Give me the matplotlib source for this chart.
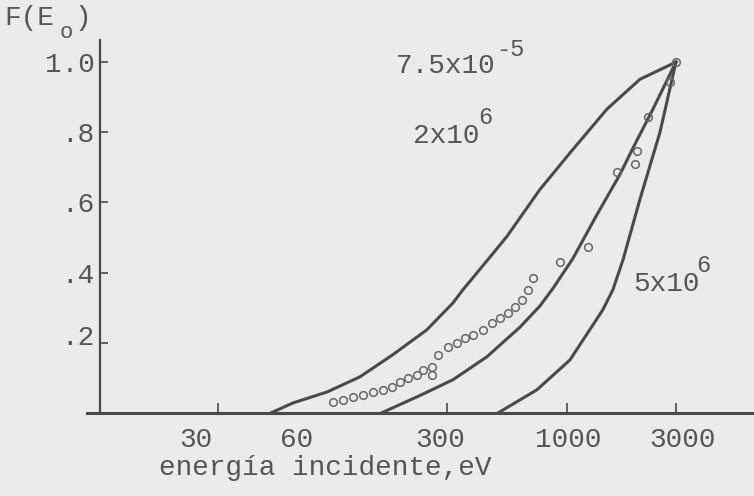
import matplotlib
matplotlib.use('Agg')
import matplotlib.pyplot as plt
from matplotlib.transforms import ScaledTranslation

# (energy in eV, F(E0))
energy_a = [51, 64, 90, 125, 174, 245, 319, 352, 431, 548, 764, 1064, 1499, 2089, 3000]
frac_a = [0.0, 0.029, 0.06, 0.103, 0.166, 0.237, 0.314, 0.351, 0.42, 0.503, 0.637, 0.751, 0.866, 0.951, 1.0]

energy_b = [155, 229, 319, 448, 626, 764, 871, 1064, 1355, 1709, 1947, 2381, 3000]
frac_b = [0.0, 0.05, 0.095, 0.16, 0.245, 0.305, 0.355, 0.44, 0.565, 0.68, 0.755, 0.866, 1.0]

energy_c = [501, 741, 1033, 1438, 1591, 1763, 2089, 2555, 3000]
frac_c = [0.0, 0.066, 0.151, 0.294, 0.351, 0.437, 0.609, 0.80, 1.0]

pts_e = [95, 105, 117, 129, 143, 158, 173, 187, 203, 222, 236, 258, 258, 274, 303, 332, 360,
         390, 431, 472, 511, 554, 594, 638, 678, 713, 934, 1238, 1656, 1986, 2027, 2265, 2825, 3000]
pts_f = [0.031, 0.037, 0.046, 0.051, 0.060, 0.066, 0.074, 0.089, 0.100, 0.109, 0.123, 0.131, 0.109,
         0.166, 0.189, 0.200, 0.214, 0.223, 0.237, 0.257, 0.271, 0.286, 0.303, 0.323, 0.351, 0.386,
         0.429, 0.474, 0.686, 0.709, 0.746, 0.843, 0.943, 1.0]

xticks = [30, 60, 300, 1000, 3000]
xticklabels = ['30', '60', '300', '1000', '3000']
yticks = [0.2, 0.4, 0.6, 0.8, 1.0]
yticklabels = ['.2', '.4', '.6', '.8', '1.0']

W, H = 754, 496
bg = '#ebebe9'
ink = '#4a4a4a'
txt = '#555555'
mono = 'Liberation Mono'

fig = plt.figure(figsize=(W/100, H/100), dpi=100, facecolor=bg)
ax = fig.add_axes([87/W, 1-413/H, (W-87)/W, (413-40)/H])
ax.set_facecolor(bg)

ax.plot(energy_a, frac_a, color=ink, lw=2.2, solid_joinstyle='round')
ax.plot(energy_b, frac_b, color=ink, lw=2.2, solid_joinstyle='round')
ax.plot(energy_c, frac_c, color=ink, lw=2.2, solid_joinstyle='round')
ax.plot(pts_e, pts_f, 'o', ms=5.5, mfc='none', mec='#666666', mew=1.1, ls='none')

ax.set_xscale('log')
ax.set_xlim(8.04, 6577)
ax.set_ylim(0, 1.063)

for s in ['top', 'right']:
	ax.spines[s].set_visible(False)
ax.spines['left'].set_position(('data', 9.16))
ax.spines['left'].set_color(ink)
ax.spines['left'].set_linewidth(1.6)
ax.spines['bottom'].set_color(ink)
ax.spines['bottom'].set_linewidth(2.2)

ax.set_xticks(xticks)
ax.set_xticklabels(xticklabels)
ax.xaxis.set_minor_locator(matplotlib.ticker.NullLocator())
ax.get_xaxis().get_major_ticks()[1].tick1line.set_visible(False)
ax.set_yticks(yticks)
ax.set_yticklabels(yticklabels)
ax.tick_params(axis='x', direction='in', length=7, width=1.2, color=ink, pad=10,
               labelsize=20, labelcolor=txt)
ax.tick_params(axis='y', direction='in', length=6, width=1.2, color=ink, pad=4,
               labelsize=20, labelcolor=txt)
for lab in ax.get_xticklabels() + ax.get_yticklabels():
	lab.set_family(mono)

# the typed labels don't sit exactly under their ticks
xshift = [-22, 10, -7, 2, 7]
for lab, dx in zip(ax.get_xticklabels(), xshift):
	lab.set_transform(lab.get_transform() + ScaledTranslation(dx/100, 0, fig.dpi_scale_trans))
ylab = ax.get_yticklabels()[0]
ylab.set_transform(ylab.get_transform() + ScaledTranslation(0, 8/100, fig.dpi_scale_trans))

ax.set_xlabel('energía incidente,eV', family=mono, fontsize=20, color=txt)
ax.xaxis.set_label_coords((325-87)/(W-87), -(455-413)/(413-40))

def put(xp, yp, s, size=20):
	fig.text(xp/W, 1-yp/H, s, family=mono, fontsize=size, color=txt, va='center', ha='left')

put(4, 18, 'F(E', 20)
put(60, 33, 'o', 16)
put(74, 18, ')', 20)

put(396, 66, '7.5x10')
put(496, 50, '-5', 17)
put(413, 136, '2x10')
put(478, 118, '6', 17)
put(633, 284, '5x10')
put(696, 266, '6', 17)

fig.savefig('out.png', dpi=100, facecolor=bg)
